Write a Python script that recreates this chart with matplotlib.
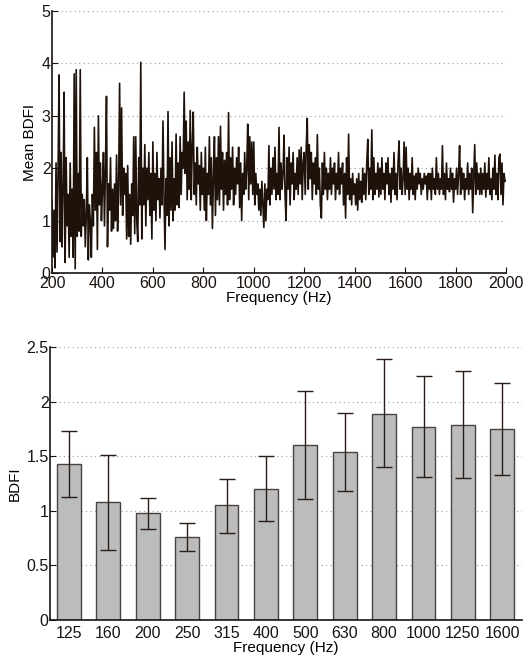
import numpy as np
import matplotlib
matplotlib.use("Agg")
import matplotlib.pyplot as plt

plt.rcParams['font.family'] = ['Liberation Sans', 'DejaVu Sans']
plt.rcParams['font.size'] = 11

# ---- Top panel: mean BDFI vs frequency (4 Hz steps, 200..2000 Hz) ----
freq_start, freq_step = 200, 4
bdfi_200 = [1.4, 0.3, 1.2, 0.1, 2.1, 0.4, 1.9, 3.78, 0.6, 2.3, 0.5, 1.6, 3.45, 0.2, 2.2, 0.9, 1.5, 0.3, 2.1, 0.7, 1.6, 0.3, 3.8, 0.08, 3.88]
bdfi_300 = [0.7, 1.9, 0.8, 3.88, 0.7, 1.5, 0.9, 1.4, 0.5, 1.1, 2.2, 0.25, 1.3, 1.0, 0.3, 1.5, 0.9, 2.78, 1.2, 2.3, 0.45, 3.0, 1.3, 2.1, 1.0]
bdfi_400 = [1.6, 2.3, 0.9, 2.0, 3.37, 0.5, 1.7, 1.2, 2.2, 0.8, 1.6, 0.85, 1.7, 1.0, 2.25, 0.8, 1.6, 3.62, 1.3, 3.15, 1.1, 2.0, 1.5, 1.9, 0.65]
bdfi_500 = [2.05, 0.7, 1.5, 0.55, 1.7, 1.1, 2.6, 0.75, 2.6, 1.0, 0.6, 2.2, 1.3, 4.02, 0.65, 2.0, 1.3, 2.45, 0.9, 2.0, 1.4, 2.3, 1.1, 1.9, 0.65]
bdfi_600 = [2.5, 1.2, 1.9, 1.0, 2.3, 1.4, 1.8, 1.05, 2.0, 1.3, 2.9, 1.5, 0.45, 1.8, 1.1, 3.08, 0.9, 2.2, 1.2, 2.5, 1.0, 1.8, 1.2, 2.65, 1.3]
bdfi_700 = [2.1, 1.25, 2.6, 1.5, 2.3, 2.0, 3.45, 1.9, 2.9, 1.4, 2.5, 1.6, 3.1, 1.4, 2.4, 3.07, 1.5, 2.1, 1.3, 2.4, 1.7, 2.05, 1.2, 2.3, 1.5]
bdfi_800 = [2.0, 1.2, 2.4, 1.0, 1.9, 1.5, 2.6, 1.3, 2.2, 0.85, 1.8, 2.6, 1.1, 2.2, 1.4, 2.6, 1.3, 2.8, 1.6, 2.3, 1.2, 2.15, 1.5, 2.3, 1.3]
bdfi_900 = [3.06, 1.4, 2.2, 1.6, 2.4, 1.3, 2.0, 1.5, 2.2, 1.7, 2.4, 1.25, 2.1, 1.0, 1.9, 1.5, 2.3, 1.6, 2.0, 2.84, 1.4, 2.6, 1.7, 2.5, 1.5]
bdfi_1000 = [2.5, 1.3, 1.9, 1.5, 1.7, 1.2, 1.6, 1.1, 1.75, 1.3, 0.87, 1.7, 1.0, 1.6, 1.4, 2.43, 1.3, 2.0, 1.5, 2.2, 1.6, 2.4, 1.4, 1.9, 1.5]
bdfi_1100 = [2.78, 1.4, 2.1, 1.6, 1.9, 2.63, 1.5, 1.0, 2.2, 1.6, 2.4, 1.3, 2.1, 1.7, 2.3, 1.4, 1.9, 1.6, 2.2, 1.5, 2.35, 1.7, 2.4, 1.4, 2.1]
bdfi_1200 = [2.3, 1.5, 2.4, 2.95, 1.6, 2.45, 1.8, 2.3, 1.4, 2.1, 1.7, 2.2, 1.5, 2.64, 1.6, 2.0, 1.3, 1.05, 2.1, 1.5, 2.3, 1.6, 2.0, 1.4, 1.9]
bdfi_1300 = [1.6, 2.2, 1.5, 2.0, 1.7, 2.1, 1.4, 1.9, 1.6, 2.3, 1.5, 2.0, 1.7, 2.1, 1.3, 1.9, 1.05, 2.2, 1.5, 2.65, 1.4, 1.8, 1.3, 1.9, 1.5]
bdfi_1400 = [1.7, 1.3, 1.8, 1.2, 1.9, 1.4, 1.75, 1.35, 2.0, 1.5, 1.9, 1.4, 2.1, 2.55, 1.5, 2.0, 1.6, 2.73, 1.4, 2.2, 1.5, 1.9, 1.6, 2.1, 1.45]
bdfi_1500 = [2.0, 1.5, 2.2, 1.6, 1.9, 1.4, 2.1, 1.7, 2.2, 1.5, 1.9, 1.35, 2.0, 1.6, 2.3, 1.5, 1.9, 1.4, 2.1, 2.52, 1.6, 2.0, 1.5, 1.8, 2.5]
bdfi_1600 = [1.5, 2.4, 1.6, 2.0, 1.4, 1.9, 1.6, 2.2, 1.5, 1.85, 1.4, 1.9, 1.6, 2.0, 1.7, 1.9, 1.5, 1.8, 1.6, 1.9, 1.7, 1.85, 1.4, 1.9, 1.6]
bdfi_1700 = [1.9, 1.4, 2.0, 1.6, 1.8, 1.5, 2.2, 1.6, 1.9, 1.5, 1.8, 1.6, 2.43, 1.5, 1.9, 1.4, 2.1, 1.6, 1.8, 1.55, 2.0, 1.6, 1.9, 1.35, 1.8]
bdfi_1800 = [1.6, 2.0, 1.5, 1.9, 2.43, 1.5, 2.0, 1.6, 1.9, 1.4, 1.8, 1.6, 2.1, 1.5, 1.9, 1.6, 2.0, 1.15, 1.8, 2.45, 1.5, 2.1, 1.6, 1.9, 1.5]
bdfi_1900 = [2.0, 1.5, 1.9, 1.6, 2.1, 1.45, 1.9, 1.6, 2.2, 1.5, 1.8, 1.4, 2.0, 1.6, 2.25, 1.5, 1.9, 1.4, 2.2, 2.27, 1.5, 2.1, 1.3, 1.9, 1.75, 1.75]

mean_bdfi = (bdfi_200 + bdfi_300 + bdfi_400 + bdfi_500 + bdfi_600 + bdfi_700 +
             bdfi_800 + bdfi_900 + bdfi_1000 + bdfi_1100 + bdfi_1200 + bdfi_1300 +
             bdfi_1400 + bdfi_1500 + bdfi_1600 + bdfi_1700 + bdfi_1800 + bdfi_1900)
freqs = freq_start + freq_step * np.arange(len(mean_bdfi))

# ---- Bottom panel: third-octave BDFI with error bars ----
bands = ['125', '160', '200', '250', '315', '400', '500', '630', '800', '1000', '1250', '1600']
band_bdfi = [1.43, 1.08, 0.98, 0.76, 1.05, 1.20, 1.60, 1.54, 1.89, 1.77, 1.79, 1.75]
err_low = [1.13, 0.64, 0.83, 0.63, 0.80, 0.91, 1.11, 1.18, 1.40, 1.31, 1.30, 1.33]
err_high = [1.73, 1.51, 1.12, 0.89, 1.29, 1.50, 2.10, 1.90, 2.39, 2.23, 2.28, 2.17]

W, H = 529, 661
fig = plt.figure(figsize=(W / 100, H / 100), dpi=100)

line_col = '#1e120a'
grid_kw = dict(color='#9a9a9a', linestyle=(0, (1, 3)), linewidth=0.8)
TICK_FS = 11.5
LABEL_FS = 11


def style(ax):
    for s in ['top', 'right']:
        ax.spines[s].set_visible(False)
    for s in ['left', 'bottom']:
        ax.spines[s].set_linewidth(1.2)
        ax.spines[s].set_color('#1a1410')
    ax.tick_params(direction='in', length=4, width=0.8, colors='#1a1410',
                   labelsize=TICK_FS, pad=2)
    ax.yaxis.grid(True, **grid_kw)
    ax.set_axisbelow(True)


ax1 = fig.add_axes([52 / W, 1 - 273 / H, 454 / W, 262 / H])
style(ax1)
ax1.plot(freqs, mean_bdfi, color=line_col, linewidth=1.2)
ax1.set_xlim(200, 2000)
ax1.set_ylim(0, 5)
ax1.set_xticks(np.arange(200, 2001, 200))
ax1.set_yticks(np.arange(0, 6, 1))
ax1.tick_params(axis='y', pad=1)
ax1.set_xlabel('Frequency (Hz)', fontsize=LABEL_FS, labelpad=0)
ax1.set_ylabel('Mean BDFI', fontsize=LABEL_FS, labelpad=3)

ax2 = fig.add_axes([50 / W, 1 - 620 / H, 472 / W, 273 / H])
style(ax2)
pos = np.arange(1, len(bands) + 1)
vals = np.array(band_bdfi)
yerr = np.vstack([vals - np.array(err_low), np.array(err_high) - vals])
ax2.bar(pos, vals, width=0.6, color='#bcbcbc', edgecolor='#4a4240', linewidth=1.0, zorder=2)
ax2.errorbar(pos, vals, yerr=yerr, fmt='none', ecolor='#2a1e18', elinewidth=1.0,
             capsize=5.8, capthick=1.0, zorder=3)
ax2.set_xlim(0.52, 12.5)
ax2.set_ylim(0, 2.5)
ax2.set_xticks(pos)
ax2.set_xticklabels(bands)
ax2.set_yticks([0, 0.5, 1, 1.5, 2, 2.5])
ax2.set_yticklabels(['0', '0.5', '1', '1.5', '2', '2.5'])
ax2.tick_params(axis='x', length=0, pad=4)
ax2.tick_params(axis='y', pad=1)
ax2.set_xlabel('Frequency (Hz)', fontsize=LABEL_FS, labelpad=0)
ax2.set_ylabel('BDFI', fontsize=LABEL_FS, labelpad=3)

fig.savefig('out.png', dpi=100)
